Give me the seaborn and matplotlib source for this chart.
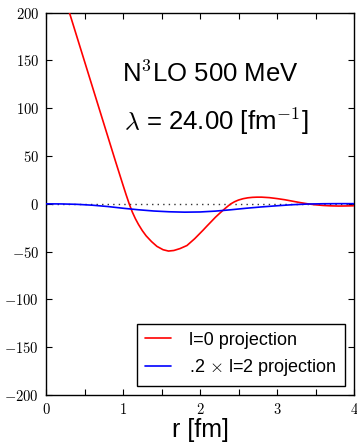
import numpy as np
import pandas as pd
import matplotlib
matplotlib.use("Agg")
import matplotlib.pyplot as plt
import seaborn as sns
from matplotlib.ticker import FuncFormatter, MultipleLocator

# ---- data ----
r_l0 = [0.30, 0.40, 0.50, 0.60, 0.70, 0.80, 0.90, 1.00, 1.04, 1.08, 1.12,
        1.16, 1.20, 1.25, 1.30, 1.37, 1.44, 1.52, 1.59, 1.66, 1.74, 1.83,
        1.93, 2.04, 2.09, 2.15, 2.20, 2.26, 2.32, 2.36, 2.40, 2.45, 2.50,
        2.56, 2.62, 2.68, 2.74, 2.80, 2.90, 3.00, 3.10, 3.20, 3.30,
        3.40, 3.50, 3.60, 3.70, 3.80, 3.90, 4.00]
v_l0 = [201.0, 175.0, 149.0, 123.0, 97.0, 71.0, 45.0, 19.5, 9.5, 0.0, -8.5,
        -15.5, -21.5, -28.0, -33.5, -39.5, -44.5, -48.0, -49.4, -48.8, -46.8, -43.6,
        -36.5, -27.5, -23.2, -18.2, -14.0, -9.5, -5.2, -2.5, 0.0, 2.3, 4.0,
        5.4, 6.3, 6.8, 7.0, 7.0, 6.5, 5.5, 4.3, 2.8, 1.3,
        0.0, -1.0, -1.7, -2.1, -2.3, -2.2, -2.0]

r_l2 = [0.0, 0.2, 0.4, 0.6, 0.8, 1.0, 1.2, 1.4, 1.6, 1.8, 2.0, 2.2, 2.4,
        2.6, 2.8, 3.0, 3.2, 3.4, 3.6, 3.8, 4.0]
v_l2 = [0.0, -0.1, -0.5, -1.4, -2.8, -4.6, -6.2, -7.5, -8.3, -8.7, -8.5, -7.6, -6.2,
        -4.6, -3.2, -2.0, -0.9, -0.2, 0.1, 0.2, 0.2]

series_labels = ["l=0 projection", r".2 $\times$ l=2 projection"]
series_colors = ["#ff0000", "#0000ff"]
x_ticks = [0, 1, 2, 3, 4]
y_ticks = [-200, -150, -100, -50, 0, 50, 100, 150, 200]
title_line1 = r"N$^3$LO 500 MeV"
title_line2 = r"$\lambda$ = 24.00 [fm$^{-1}$]"
x_label = "r [fm]"

# ---- style ----
sns.set_style("ticks")
plt.rcParams["font.family"] = ["Liberation Sans", "DejaVu Sans"]
plt.rcParams["mathtext.fontset"] = "cm"
for k in ["text.color", "axes.labelcolor", "xtick.color", "ytick.color", "axes.edgecolor"]:
    plt.rcParams[k] = "black"

df = pd.concat([
    pd.DataFrame({"r": r_l0, "v": v_l0, "series": series_labels[0]}),
    pd.DataFrame({"r": r_l2, "v": v_l2, "series": series_labels[1]}),
], ignore_index=True)

fig = plt.figure(figsize=(3.57, 4.43), dpi=100)
ax = fig.add_axes([0.129, 0.1084, 0.8627, 0.8629])

ax.axhline(0, color="#333333", ls=(0, (1, 3)), lw=1.0, zorder=1)
sns.lineplot(data=df, x="r", y="v", hue="series", hue_order=series_labels,
             palette=series_colors, estimator=None, lw=1.2, ax=ax, zorder=3)

ax.set_xlim(x_ticks[0], x_ticks[-1])
ax.set_ylim(y_ticks[0], y_ticks[-1])
ax.set_xticks(x_ticks)
ax.set_yticks(y_ticks)
ax.xaxis.set_minor_locator(MultipleLocator(0.5))
fmt = FuncFormatter(lambda v, p: r"$%d$" % v)
ax.xaxis.set_major_formatter(fmt)
ax.yaxis.set_major_formatter(fmt)
ax.tick_params(which="both", direction="in", top=True, right=True,
               length=4, width=0.8, color="black", labelsize=10.5, pad=5)
for s in ax.spines.values():
    s.set_color("black")
    s.set_linewidth(1.0)

ax.set_xlabel(x_label, fontsize=18, labelpad=1)
ax.set_ylabel("")

ax.text(2.13, 136, title_line1, ha="center", va="center", fontsize=18.5)
ax.text(2.21, 86, title_line2, ha="center", va="center", fontsize=18.5)

handles, _ = ax.get_legend_handles_labels()
leg = ax.legend(handles=handles[-2:], labels=series_labels, loc="lower right",
                fontsize=13, fancybox=False, framealpha=1, edgecolor="black",
                handlelength=1.45, handletextpad=1.0, borderpad=0.45,
                labelspacing=0.45, borderaxespad=0.5)
leg.get_frame().set_linewidth(1.0)

fig.savefig("out.png", dpi=100)
